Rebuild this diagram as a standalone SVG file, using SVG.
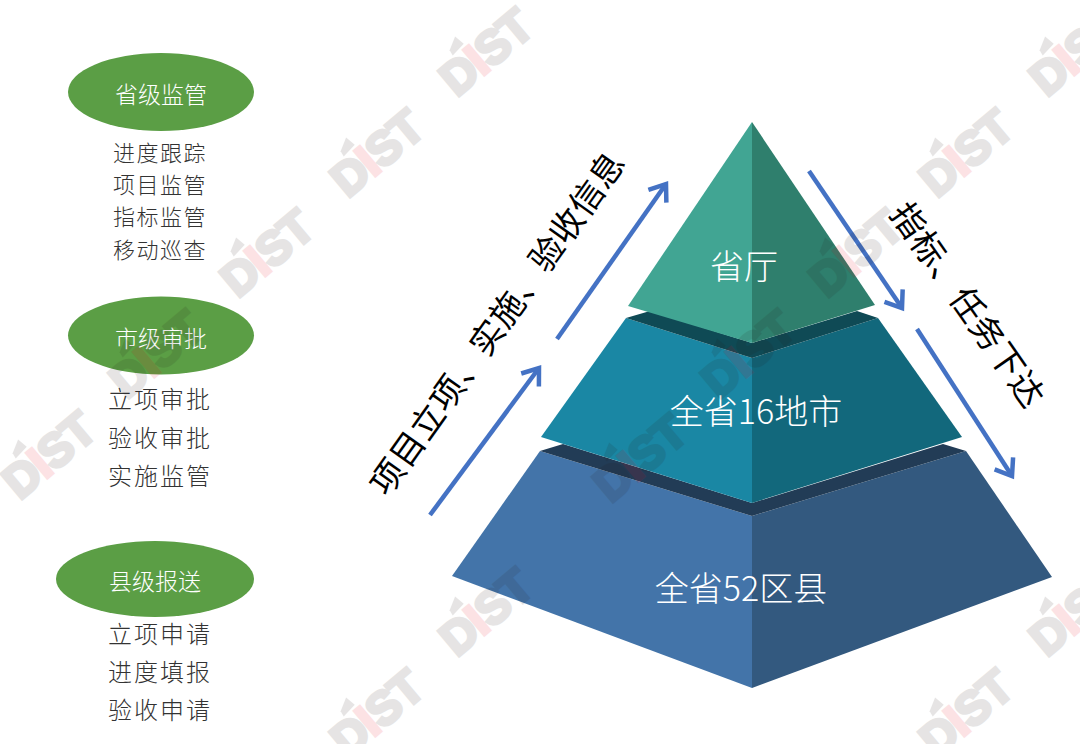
<svg xmlns="http://www.w3.org/2000/svg" width="1080" height="744" viewBox="0 0 1080 744">
<style>
text{font-family:"Noto Sans CJK SC","Liberation Sans",sans-serif}
.h{fill:#fff;font-size:23px;text-anchor:middle;font-weight:300}
.l{fill:#333;font-size:22px;text-anchor:middle;letter-spacing:1.500px;font-weight:300}
.m{fill:#333;font-size:24px;text-anchor:middle;letter-spacing:2px;font-weight:300}
.p{fill:#fff;font-size:34px;text-anchor:middle;font-weight:300}
.b{fill:#000;font-size:34px;text-anchor:middle;font-weight:400;letter-spacing:.3px}
.a{fill:none;stroke:#4472c4;stroke-width:4.500;marker-end:url(#ah)}
.w{font-family:"Liberation Sans",sans-serif;font-weight:700;font-size:47px;fill:#231815;stroke:#231815;stroke-width:3.500px;stroke-linejoin:miter}
.wi{fill:#e60012;stroke:#e60012}
.wm{opacity:.11}
</style>
<defs>
<marker id="ah" markerUnits="userSpaceOnUse" markerWidth="30" markerHeight="30" refX="21" refY="15" orient="auto" overflow="visible">
<path d="M6 4L21 15L6 26" fill="none" stroke="#4472c4" stroke-width="4.500"/>
</marker>
<g id="wm" class="wm"><text class="w" x="-51" y="17" textLength="104">D<tspan class="wi">I</tspan>ST</text><path d="M-26-24l13-7 2 11-16 2z" fill="#231815"/></g>
</defs>
<g id="node-county">
<path d="M540 451L452 576L752 688V516Z" fill="#4374a9"/>
<path d="M966 451L1052 577L752 688V516Z" fill="#33597f"/>
<path d="M540 451L563 444L752 503L943 444L966 451L752 516Z" fill="#223c56"/>
<text class="p" x="741" y="601">全省52区县</text>
</g>
<g id="node-city">
<path d="M626 318L541 437L752 503V358Z" fill="#1a87a4"/>
<path d="M878 318L962 437L752 503V358Z" fill="#12687c"/>
<path d="M626 318L650 311L752 343L857 311L878 318L752 358Z" fill="#0f4a55"/>
<text class="p" x="756" y="424">全省16地市</text>
</g>
<g id="node-province">
<path d="M752 122L628 306L752 343Z" fill="#41a593"/>
<path d="M752 122L875 305L752 343Z" fill="#2f7f6d"/>
<text class="p" x="744" y="279">省厅</text>
</g>
<g id="connectors">
<path class="a" d="M430 515L539 368"/>
<path class="a" d="M557 339L666 184"/>
<path class="a" d="M809 171L902 308"/>
<path class="a" d="M917 329L1012 476"/>
</g>
<text class="b" transform="translate(497.500 323.500) rotate(-54.500)" dy="12">项目立项、实施、验收信息</text>
<text class="b" transform="translate(967.500 305) rotate(55)" dy="12">指标、任务下达</text>
<g id="node-province-level">
<ellipse cx="161" cy="92" rx="93" ry="39" fill="#5b9e45"/>
<text class="h" x="161" y="103">省级监管</text>
<text class="l" x="160" y="161">进度跟踪</text>
<text class="l" x="160" y="193">项目监管</text>
<text class="l" x="160" y="225">指标监管</text>
<text class="l" x="160" y="258">移动巡查</text>
</g>
<g id="node-city-level">
<ellipse cx="161" cy="335.500" rx="93" ry="39" fill="#5b9e45"/>
<text class="h" x="161" y="347">市级审批</text>
<text class="m" x="160" y="408">立项审批</text>
<text class="m" x="160" y="447">验收审批</text>
<text class="m" x="160" y="485">实施监管</text>
</g>
<g id="node-county-level">
<ellipse cx="155" cy="579" rx="99" ry="38" fill="#5b9e45"/>
<text class="h" x="155" y="590">县级报送</text>
<text class="m" x="160" y="643">立项申请</text>
<text class="m" x="160" y="681">进度填报</text>
<text class="m" x="160" y="719">验收申请</text>
</g>
<g id="watermarks">
<use href="#wm" transform="translate(485 52) rotate(-40)"/>
<use href="#wm" transform="translate(376 153) rotate(-40)"/>
<use href="#wm" transform="translate(266 253) rotate(-40)"/>
<use href="#wm" transform="translate(155 354) rotate(-40)"/>
<use href="#wm" transform="translate(48 455) rotate(-40)"/>
<use href="#wm" transform="translate(1075 52) rotate(-40)"/>
<use href="#wm" transform="translate(965 153) rotate(-40)"/>
<use href="#wm" transform="translate(855 253) rotate(-40)"/>
<use href="#wm" transform="translate(747 354) rotate(-40)"/>
<use href="#wm" transform="translate(639 458) rotate(-40)"/>
<use href="#wm" transform="translate(485 612) rotate(-40)"/>
<use href="#wm" transform="translate(376 713) rotate(-40)"/>
<use href="#wm" transform="translate(1075 612) rotate(-40)"/>
<use href="#wm" transform="translate(965 713) rotate(-40)"/>
</g>
</svg>
